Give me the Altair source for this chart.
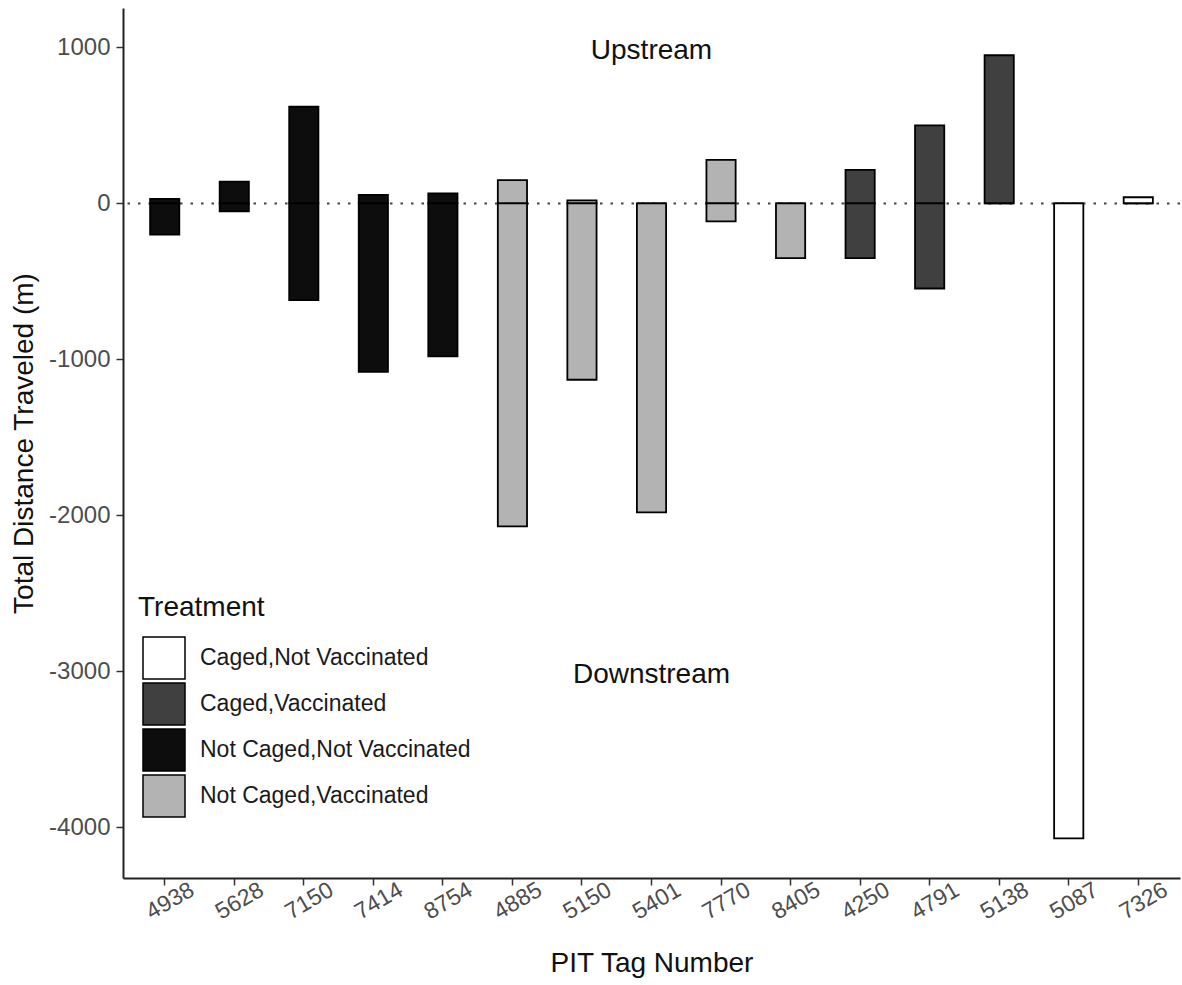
import altair as alt
import pandas as pd

# PIT tags in plotting order, with treatment group and movement totals (m)
tags = ["4938", "5628", "7150", "7414", "8754", "4885", "5150", "5401",
        "7770", "8405", "4250", "4791", "5138", "5087", "7326"]
treatment = (["Not Caged,Not Vaccinated"] * 5
             + ["Not Caged,Vaccinated"] * 5
             + ["Caged,Vaccinated"] * 3
             + ["Caged,Not Vaccinated"] * 2)
upstream = [30, 140, 620, 55, 65, 150, 20, 0, 280, 0, 215, 500, 950, 0, 40]
downstream = [-200, -50, -620, -1080, -980, -2070, -1130, -1980, -115, -350,
              -350, -545, 0, -4070, 0]

groups = ["Caged,Not Vaccinated", "Caged,Vaccinated",
          "Not Caged,Not Vaccinated", "Not Caged,Vaccinated"]
group_fill = ["#ffffff", "#404040", "#0d0d0d", "#b3b3b3"]

notes = ["Upstream", "Downstream"]
note_y = [1000, -3000]
note_tag = ["5401", "5401"]

rows = []
for t, g, u, d in zip(tags, treatment, upstream, downstream):
    rows.append({"tag": t, "Treatment": g, "lo": 0, "hi": u})
    rows.append({"tag": t, "Treatment": g, "lo": d, "hi": 0})
bars_df = pd.DataFrame(rows)
notes_df = pd.DataFrame({"tag": note_tag, "y": note_y, "text": notes})

FONT = "Liberation Sans"

x_enc = alt.X(
    "tag:N", sort=tags,
    scale=alt.Scale(paddingInner=0.58, paddingOuter=0.39),
    axis=alt.Axis(title="PIT Tag Number", labelAngle=-30, labelAlign="center",
                  labelBaseline="top", labelFontSize=23, labelColor="#4d4d4d",
                  labelPadding=6, tickSize=7, tickColor="#333333", tickWidth=1.5,
                  domainColor="#222222", domainWidth=2, titleFontSize=28,
                  titleFontWeight="normal", titleColor="#111111", titlePadding=26,
                  grid=False),
)
y_scale = alt.Scale(domain=[-4324, 1253], nice=False, zero=False)

bars = alt.Chart(bars_df).mark_bar(stroke="black", strokeWidth=1.8).encode(
    x=x_enc,
    y=alt.Y("lo:Q", scale=y_scale,
            axis=alt.Axis(title="Total Distance Traveled (m)",
                          values=[-4000, -3000, -2000, -1000, 0, 1000],
                          labelExpr="datum.value + ''", labelFontSize=24,
                          labelColor="#4d4d4d", labelPadding=6, tickSize=7,
                          tickColor="#333333", tickWidth=1.5,
                          domainColor="#222222", domainWidth=2,
                          titleFontSize=28, titleFontWeight="normal",
                          titleColor="#111111", titlePadding=10, grid=False)),
    y2="hi:Q",
    fill=alt.Fill("Treatment:N",
                  scale=alt.Scale(domain=groups, range=group_fill),
                  legend=alt.Legend(title="Treatment", orient="none",
                                    legendX=15, legendY=586, padding=0,
                                    symbolType="square", symbolSize=1764,
                                    symbolStrokeColor="black",
                                    symbolStrokeWidth=1.5, symbolOpacity=1,
                                    symbolOffset=4,
                                    titleFontSize=28, titleFontWeight="normal",
                                    titleColor="#111111", titlePadding=14,
                                    labelFontSize=23, labelColor="#1a1a1a",
                                    labelOffset=14, rowPadding=-2,
                                    labelLimit=400)),
)

zero_line = alt.Chart(pd.DataFrame({"y": [0]})).mark_rule(
    color="#444444", strokeWidth=2, strokeDash=[2.5, 8]
).encode(y=alt.Y("y:Q", scale=y_scale))

labels = alt.Chart(notes_df).mark_text(
    fontSize=28, font=FONT, color="#111111", baseline="middle", align="center",
    dy=4
).encode(
    x=alt.X("tag:N", sort=tags),
    y=alt.Y("y:Q", scale=y_scale),
    text="text:N",
)

chart = alt.layer(zero_line, bars, labels).properties(
    width=1057, height=870,
    padding={"left": 123, "top": 8, "right": 2, "bottom": 107},
    autosize=alt.AutoSizeParams(type="none"),
).configure(font=FONT).configure_view(stroke=None)

chart.save("out.html", embed_options={"renderer": "svg", "actions": False})
